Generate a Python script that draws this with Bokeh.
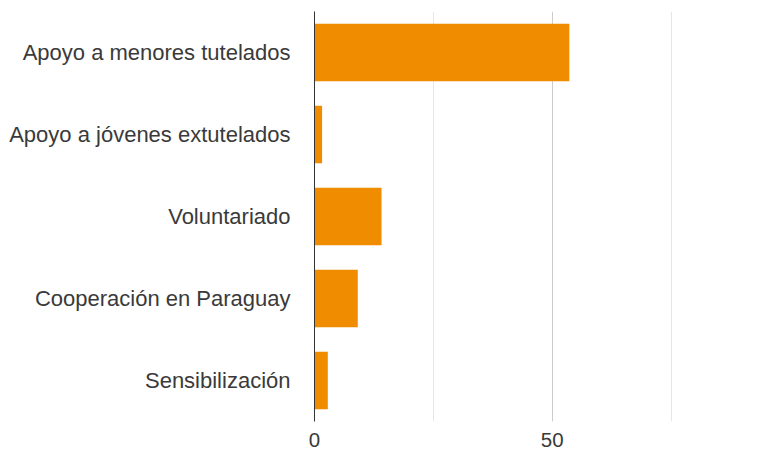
from bokeh.plotting import figure
from bokeh.models import Range1d, FactorRange, FixedTicker
from bokeh.embed import file_html
from bokeh.resources import INLINE

categories = ["Apoyo a menores tutelados", "Apoyo a jóvenes extutelados",
              "Voluntariado", "Cooperación en Paraguay", "Sensibilización"]
values = [53.6, 1.6, 14.1, 9.1, 2.8]
x_label_ticks = [0, 50]
x_major_grid = [50]
x_minor_grid = [25, 75]
x_max = 75.3

BAR = "#F08C00"
TEXT = "#3a3a3a"
FONT = "Liberation Sans"

p = figure(width=765, height=455,
           y_range=FactorRange(factors=list(reversed(categories))),
           x_range=Range1d(0, x_max),
           output_backend="svg", toolbar_location=None,
           min_border_left=314, min_border_right=93,
           min_border_top=11, min_border_bottom=34)

p.hbar(y=categories, left=0, right=values, height=0.7,
       fill_color=BAR, line_color=None)

p.outline_line_color = None
p.background_fill_color = "white"
p.border_fill_color = "white"

p.ygrid.visible = False
p.xgrid.ticker = FixedTicker(ticks=x_major_grid, minor_ticks=x_minor_grid)
p.xgrid.grid_line_color = "#cccccc"
p.xgrid.minor_grid_line_color = "#e6e6e6"

xa = p.xaxis[0]
xa.ticker = FixedTicker(ticks=x_label_ticks)
xa.axis_line_color = None
xa.major_tick_line_color = None
xa.minor_tick_line_color = None
xa.major_tick_out = 0
xa.major_tick_in = 0
xa.major_label_standoff = 11
xa.major_label_text_font = FONT
xa.major_label_text_font_size = "20.5px"
xa.major_label_text_font_style = "normal"
xa.major_label_text_color = TEXT

ya = p.yaxis[0]
ya.axis_line_color = "#333333"
ya.axis_line_width = 1
ya.major_tick_line_color = None
ya.minor_tick_line_color = None
ya.major_tick_out = 0
ya.major_tick_in = 0
ya.major_label_standoff = 24
ya.major_label_text_font = FONT
ya.major_label_text_font_size = "22px"
ya.major_label_text_font_style = "normal"
ya.major_label_text_color = TEXT

open("out.html", "w").write(file_html(p, INLINE))
